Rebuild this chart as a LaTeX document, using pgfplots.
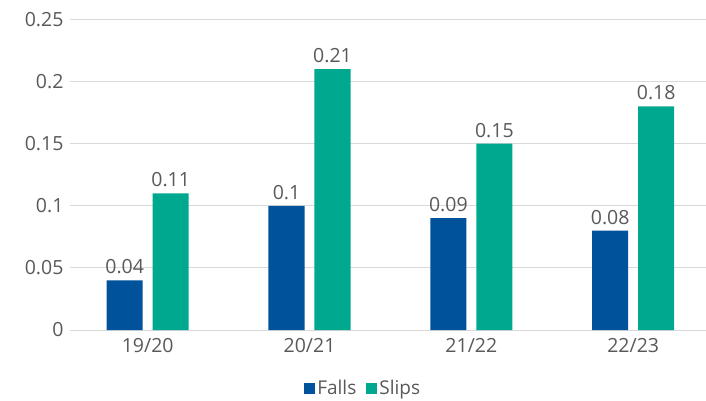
\documentclass[border=0pt]{standalone}
\usepackage{pgfplots}
\pgfplotsset{compat=1.18}
\usepackage{fontspec}
\setmainfont{Open Sans}
\definecolor{falls}{HTML}{00539B}
\definecolor{slips}{HTML}{00A88F}
\definecolor{txt}{HTML}{595959}
\definecolor{gridc}{HTML}{D9D9D9}
\begin{document}
\begin{tikzpicture}
\useasboundingbox (-70pt,-70pt) rectangle (636pt,330pt);
\begin{axis}[
  at={(0,0)}, anchor=south west,
  scale only axis, width=636pt, height=310.5pt,
  xmin=-0.48, xmax=3.45, ymin=0, ymax=0.25,
  xtick={0,1,2,3}, xticklabels={19/20,20/21,21/22,22/23},
  ytick={0,0.05,0.1,0.15,0.2,0.25},
  yticklabels={0,0.05,0.1,0.15,0.2,0.25},
  ymajorgrids, grid style={gridc, line width=1pt},
  axis line style={draw=none}, major tick length=0pt,
  tick label style={font=\fontsize{19.5}{22}\selectfont, text=txt},
  yticklabel style={xshift=-3pt},
  xticklabel style={yshift=-5pt},
  /pgf/number format/assume math mode=true,
  /pgf/number format/fixed, /pgf/number format/precision=2,
  nodes near coords,
  nodes near coords style={font=\fontsize{19.5}{22}\selectfont, text=txt, inner sep=2pt, yshift=4pt},
  legend style={at={(0.461,-0.187)}, anchor=center, draw=none, fill=none,
    legend columns=2, font=\fontsize{19}{22}\selectfont, text=txt,
    /tikz/every even column/.append style={column sep=8pt}},
  legend image code/.code={\fill[#1] (0pt,-5.5pt) rectangle (11pt,5.5pt);},
  clip=false,
]
\addplot[ybar, bar width=0.223, bar shift=-0.142, fill=falls, draw=none,
  every node near coord/.append style={xshift=-23pt}]
  coordinates {(0,0.04) (1,0.10) (2,0.09) (3,0.08)};
\addlegendentry{Falls}
\addplot[ybar, bar width=0.223, bar shift=0.142, fill=slips, draw=none,
  every node near coord/.append style={xshift=23pt}]
  coordinates {(0,0.11) (1,0.21) (2,0.15) (3,0.18)};
\addlegendentry{Slips}
\end{axis}
\end{tikzpicture}
\end{document}
